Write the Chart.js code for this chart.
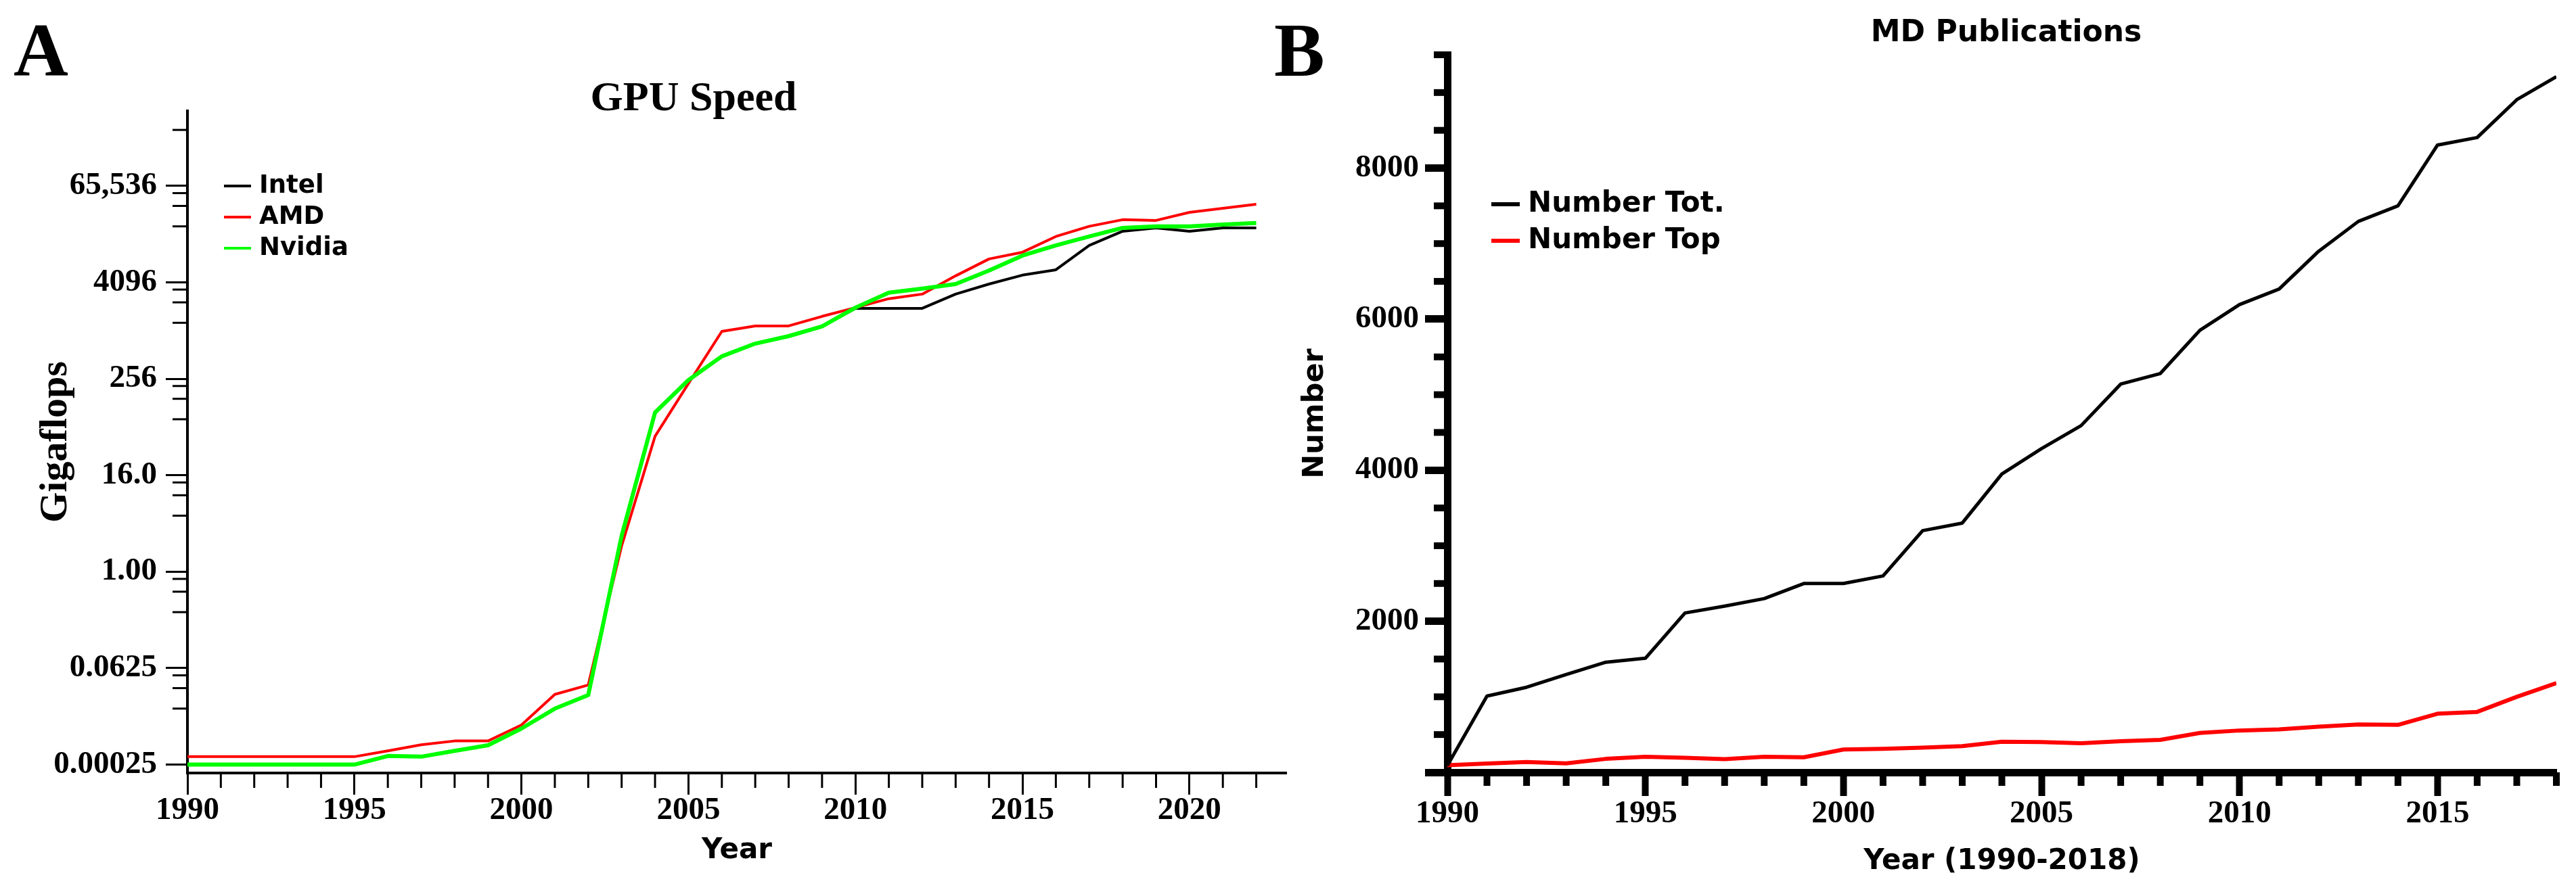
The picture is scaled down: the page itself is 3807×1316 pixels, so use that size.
<!DOCTYPE html>
<html>
<head>
<meta charset="utf-8">
<script src="https://cdn.jsdelivr.net/npm/chart.js@4.4.1/dist/chart.umd.min.js"></script>
<style>
html,body{margin:0;padding:0;background:#fff;}
body{width:3807px;height:1316px;position:relative;overflow:hidden;}
#wrapA{position:absolute;left:0;top:0;width:1920px;height:1316px;}
#wrapB{position:absolute;left:1860px;top:0;width:1947px;height:1316px;}
canvas{display:block;}
</style>
</head>
<body>
<div id="wrapA"><canvas id="cA" width="1920" height="1316" style="width:1920px;height:1316px"></canvas></div>
<div id="wrapB"><canvas id="cB" width="1947" height="1316" style="width:1947px;height:1316px"></canvas></div>
<script>
// ---------- Panel A data: GPU speed (Gigaflops) ----------
const gpuYears = [1990,1991,1992,1993,1994,1995,1996,1997,1998,1999,2000,2001,2002,2003,2004,2005,2006,2007,2008,2009,2010,2011,2012,2013,2014,2015,2016,2017,2018,2019,2020,2021,2022];
const intelGflops = [0.0039,0.0039,0.0039,0.0039,0.0039,0.0039,0.0050,0.0049,0.0058,0.0068,0.011,0.0195,0.0288,2.8,97,247,488,704,873,1152,1940,1940,1940,2920,3900,5040,5870,11830,17800,19600,17800,19600,19600];
const amdGflops = [0.0049,0.0049,0.0049,0.0049,0.0049,0.0049,0.0058,0.0069,0.0077,0.0077,0.0122,0.0294,0.0385,2.1,49,223,1000,1170,1170,1540,1980,2560,2920,4940,8030,9740,15300,20500,24800,24300,30600,34400,38700];
const nvidiaGflops = [0.0039,0.0039,0.0039,0.0039,0.0039,0.0039,0.0050,0.0049,0.0058,0.0068,0.011,0.0195,0.0288,2.8,97,247,488,704,873,1152,1980,3040,3420,3900,5750,8840,11830,15300,19600,20500,20500,21600,22500];
const gpuYTickValues = [0.00390625,0.0625,1,16,256,4096,65536];
const gpuYTickLabels = ['0.00025','0.0625','1.00','16.0','256','4096','65,536'];
const gpuXTickValues = [1990,1995,2000,2005,2010,2015,2020];

// ---------- Panel B data: MD publications ----------
const pubYears = [1990,1991,1992,1993,1994,1995,1996,1997,1998,1999,2000,2001,2002,2003,2004,2005,2006,2007,2008,2009,2010,2011,2012,2013,2014,2015,2016,2017,2018];
const numberTot = [90,1010,1126,1295,1458,1510,2110,2200,2300,2500,2500,2600,3200,3300,3950,4285,4590,5140,5280,5853,6193,6399,6900,7294,7500,8305,8404,8905,9210];
const numberTop = [95,116,136,119,178,207,193,175,207,199,302,311,326,347,406,400,385,412,430,521,554,569,605,634,628,776,800,999,1182];
const pubYTickValues = [0,2000,4000,6000,8000];
const pubYTickLabels = ['','2000','4000','6000','8000'];
const pubXTickValues = [1990,1995,2000,2005,2010,2015];

const SERIF = "'Liberation Serif','Times New Roman',serif";
const SANS = "'DejaVu Sans',sans-serif";

function pts(xs, ys){ return xs.map((x,i)=>({x:x, y:ys[i]})); }

// minor tick positions (axis furniture, derived from axis ranges)
const gpuYMin = Math.pow(2,-8.35), gpuYMax = Math.pow(2,19.11);
const gpuYMinor = [];
gpuYTickValues.forEach(m => [5,9,13].forEach(k => { const v = m*k; if (v > gpuYMin && v < gpuYMax) gpuYMinor.push(v); }));
const gpuXMinor = [];
for (let y = 1991; y <= 2022; y++) if (y % 5 !== 0) gpuXMinor.push(y);
const pubYMinor = [];
for (let v = 500; v <= 9500; v += 500) if (v % 2000 !== 0) pubYMinor.push(v);
const pubXMinor = [];
for (let y = 1991; y <= 2018; y++) if (y % 5 !== 0) pubXMinor.push(y);

// ---------- plugins ----------
const decor = {
  id: 'decor',
  afterDraw(chart, args, opts) {
    const ctx = chart.ctx;
    ctx.save();
    ctx.fillStyle = '#000';
    (opts.texts || []).forEach(t => {
      ctx.font = t.font;
      ctx.textAlign = t.align || 'left';
      ctx.textBaseline = 'alphabetic';
      ctx.fillText(t.text, t.x, t.y);
    });
    ctx.restore();
  }
};
const legendLines = {
  id: 'legendLines',
  afterDraw(chart, args, opts) {
    if (!opts || !opts.rows) return;
    const ctx = chart.ctx;
    ctx.save();
    chart.data.datasets.forEach((ds, i) => {
      const y = opts.rows[i];
      ctx.strokeStyle = ds.borderColor;
      ctx.lineWidth = opts.lineWidth;
      ctx.beginPath();
      ctx.moveTo(opts.x, y);
      ctx.lineTo(opts.x + opts.len, y);
      ctx.stroke();
      ctx.fillStyle = '#000';
      ctx.font = opts.font;
      ctx.textAlign = 'left';
      ctx.textBaseline = 'middle';
      ctx.fillText(ds.label, opts.x + opts.len + opts.gap, y);
    });
    ctx.restore();
  }
};
const minorTicks = {
  id: 'minorTicks',
  afterDraw(chart, args, opts) {
    const ctx = chart.ctx;
    ctx.save();
    ctx.strokeStyle = '#000';
    (opts.items || []).forEach(it => {
      const sc = chart.scales[it.scale];
      ctx.lineWidth = it.width;
      it.values.forEach(v => {
        const p = sc.getPixelForValue(v);
        ctx.beginPath();
        if (sc.isHorizontal()) { ctx.moveTo(p, sc.top); ctx.lineTo(p, sc.top + it.length); }
        else { ctx.moveTo(sc.right, p); ctx.lineTo(sc.right - it.length, p); }
        ctx.stroke();
      });
    });
    ctx.restore();
  }
};

const tickFont = {family: SERIF, size: 47, weight: 'bold', lineHeight: 1};

// ---------- Chart A ----------
new Chart(document.getElementById('cA'), {
  type: 'line',
  data: {
    datasets: [
      {label: 'Intel', data: pts(gpuYears, intelGflops), borderColor: '#000000', borderWidth: 4, order: 2},
      {label: 'AMD', data: pts(gpuYears, amdGflops), borderColor: '#ff0000', borderWidth: 4, order: 1},
      {label: 'Nvidia', data: pts(gpuYears, nvidiaGflops), borderColor: '#00ff00', borderWidth: 6, order: 0}
    ]
  },
  plugins: [decor, legendLines, minorTicks],
  options: {
    responsive: false, animation: false, events: [], devicePixelRatio: 1,
    layout: {padding: {top: 164, left: 0, right: 19, bottom: 0}},
    elements: {point: {radius: 0}, line: {tension: 0, borderJoinStyle: 'round', fill: false}},
    plugins: {
      legend: {display: false}, tooltip: {enabled: false}, title: {display: false},
      decor: {texts: [
        {text: 'A', x: 20, y: 112, font: "bold 112px " + SERIF},
        {text: 'GPU Speed', x: 1025, y: 163, align: 'center', font: "bold 62px " + SERIF}
      ]},
      legendLines: {x: 331, len: 40, gap: 12, rows: [275, 321, 367], lineWidth: 4, font: "bold 37px " + SANS},
      minorTicks: {items: [
        {scale: 'x', values: gpuXMinor, length: 22, width: 3},
        {scale: 'y', values: gpuYMinor, length: 22, width: 3}
      ]}
    },
    scales: {
      x: {
        type: 'linear', min: 1990, max: 2022.9, bounds: 'data',
        afterBuildTicks: s => { s.ticks = gpuXTickValues.map(v => ({value: v})); },
        afterFit: s => { s.height = 173; },
        ticks: {autoSkip: false, maxRotation: 0, padding: 0, color: '#000', font: tickFont, callback: v => String(v)},
        grid: {drawOnChartArea: false, drawTicks: true, tickLength: 32, tickWidth: 3, tickColor: '#000'},
        border: {display: true, color: '#000', width: 4},
        title: {display: true, text: 'Year', color: '#000', font: {family: SANS, size: 42, weight: 'bold', lineHeight: 1.2}, padding: {top: 0, bottom: 33}}
      },
      y: {
        type: 'logarithmic', min: gpuYMin, max: gpuYMax, bounds: 'data',
        afterBuildTicks: s => { s.ticks = gpuYTickValues.map(v => ({value: v})); },
        afterFit: s => { s.width = 277; },
        ticks: {autoSkip: false, padding: 13, color: '#000', font: tickFont, callback: (v, i) => gpuYTickLabels[i]},
        grid: {drawOnChartArea: false, drawTicks: true, tickLength: 32, tickWidth: 3, tickColor: '#000'},
        border: {display: true, color: '#000', width: 4},
        title: {display: true, text: 'Gigaflops', color: '#000', font: {family: SERIF, size: 58, weight: 'bold', lineHeight: 1.2}, padding: {top: 48, bottom: 0}}
      }
    }
  }
});

// ---------- Chart B ----------
new Chart(document.getElementById('cB'), {
  type: 'line',
  data: {
    datasets: [
      {label: 'Number Tot.', data: pts(pubYears, numberTot), borderColor: '#000000', borderWidth: 5},
      {label: 'Number Top', data: pts(pubYears, numberTop), borderColor: '#ff0000', borderWidth: 6}
    ]
  },
  plugins: [decor, legendLines, minorTicks],
  options: {
    responsive: false, animation: false, events: [], devicePixelRatio: 1,
    layout: {padding: {top: 81, left: 0, right: 29, bottom: 0}},
    elements: {point: {radius: 0}, line: {tension: 0, borderJoinStyle: 'round', fill: false}},
    plugins: {
      legend: {display: false}, tooltip: {enabled: false}, title: {display: false},
      decor: {texts: [
        {text: 'B', x: 23, y: 112, font: "bold 112px " + SERIF},
        {text: 'MD Publications', x: 1105, y: 61, align: 'center', font: "bold 44px " + SANS}
      ]},
      legendLines: {x: 344, len: 42, gap: 12, rows: [302, 356], lineWidth: 6, font: "bold 42px " + SANS},
      minorTicks: {items: [
        {scale: 'x', values: pubXMinor, length: 20, width: 10},
        {scale: 'y', values: pubYMinor, length: 20, width: 10}
      ]}
    },
    scales: {
      x: {
        type: 'linear', min: 1990, max: 2018, bounds: 'data',
        afterBuildTicks: s => { s.ticks = pubXTickValues.map(v => ({value: v})); },
        afterFit: s => { s.height = 174; },
        ticks: {autoSkip: false, maxRotation: 0, padding: 3, color: '#000', font: tickFont, callback: v => String(v)},
        grid: {drawOnChartArea: false, drawTicks: true, tickLength: 35, tickWidth: 10, tickColor: '#000'},
        border: {display: true, color: '#000', width: 11},
        title: {display: true, text: 'Year (1990-2018)', color: '#000', font: {family: SANS, size: 42, weight: 'bold', lineHeight: 1.2}, padding: {top: 0, bottom: 17}}
      },
      y: {
        type: 'linear', min: 0, max: 9500, bounds: 'data',
        afterBuildTicks: s => { s.ticks = pubYTickValues.map(v => ({value: v})); },
        afterFit: s => { s.width = 279; },
        ticks: {autoSkip: false, padding: 9, color: '#000', font: tickFont, callback: (v, i) => pubYTickLabels[i]},
        grid: {drawOnChartArea: false, drawTicks: true, tickLength: 33, tickWidth: 11, tickColor: '#000'},
        border: {display: true, color: '#000', width: 11},
        title: {display: true, text: 'Number', color: '#000', font: {family: SANS, size: 43, weight: 'bold', lineHeight: 1.2}, padding: {top: 58, bottom: 0}}
      }
    }
  }
});
</script>
</body>
</html>
